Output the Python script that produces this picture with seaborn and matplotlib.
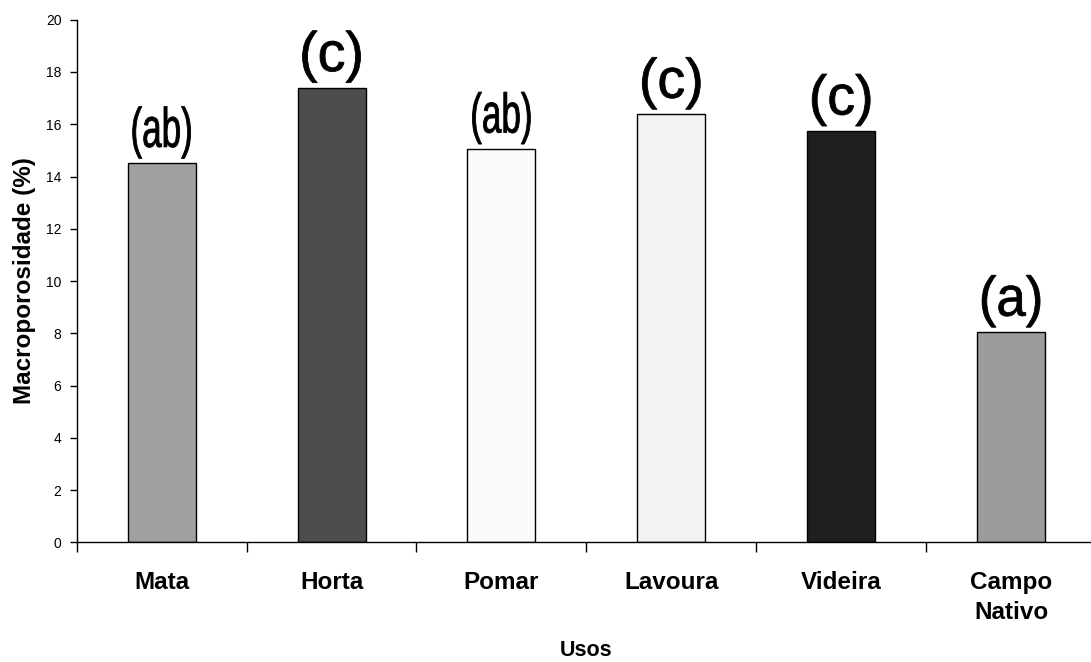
import numpy as np
import pandas as pd
import seaborn as sns
import matplotlib.pyplot as plt
from matplotlib.ticker import FixedLocator
from matplotlib.textpath import TextPath
from matplotlib.patches import PathPatch
from matplotlib.font_manager import FontProperties
from matplotlib.transforms import Affine2D, ScaledTranslation

# Data
usos = ['Mata', 'Horta', 'Pomar', 'Lavoura', 'Videira', 'Campo\nNativo']
macro = [14.5, 17.4, 15.05, 16.38, 15.74, 8.04]
letras = ['(ab)', '(c)', '(ab)', '(c)', '(c)', '(a)']
cores = ['#a0a0a0', '#4d4d4d', '#fafafa', '#f2f2f2', '#1f1f1f', '#9c9c9c']

df = pd.DataFrame({'uso': usos, 'macro': macro})

sns.set_style('white')
plt.rcParams['font.family'] = ['Liberation Sans', 'DejaVu Sans']
for k in ['text.color', 'axes.labelcolor', 'xtick.color', 'ytick.color']:
    plt.rcParams[k] = 'black'

fig = plt.figure(figsize=(10.91, 6.62), dpi=100)
# the x axis runs a little past the right edge, as in the original
ax = fig.add_axes([0.0703, 0.1808, 0.9343, 0.7894])

sns.barplot(data=df, x='uso', y='macro', hue='uso', palette=dict(zip(usos, cores)),
            legend=False, width=0.4, saturation=1, edgecolor='black', linewidth=1, ax=ax)

# letters above bars, drawn as stretched text paths (tall, narrow look)
fp = FontProperties(family='Liberation Sans')
for i, (v, t) in enumerate(zip(macro, letras)):
    tp = TextPath((0, 0), t, size=40, prop=fp)
    bb = tp.get_extents()
    tr = (Affine2D().translate(-(bb.x0 + bb.x1) / 2, -bb.y0)
          .scale(58 / bb.width, 52 / bb.height).translate(0, 5)
          + ScaledTranslation(i, v, ax.transData))
    ax.add_artist(PathPatch(tp, transform=tr, facecolor='black', edgecolor='black',
                            linewidth=0.6, clip_on=False))

ax.set_xlim(-0.5, len(usos) - 0.5)
ax.set_ylim(0, 20)
ax.set_yticks(np.arange(0, 21, 2))
ax.tick_params(axis='y', length=5, width=1, pad=6, labelsize=10, left=True, direction='out')

# ticks between categories, labels centred under bars
ax.xaxis.set_major_locator(FixedLocator(np.arange(-0.5, len(usos), 1)))
ax.xaxis.set_minor_locator(FixedLocator(np.arange(len(usos))))
ax.set_xticklabels([], minor=False)
ax.set_xticklabels(usos, minor=True, fontweight='bold', fontsize=17.5, linespacing=1.35)
ax.tick_params(axis='x', which='major', length=7, width=1, bottom=True, direction='out')
ax.tick_params(axis='x', which='minor', length=0, pad=21)

for s in ['top', 'right']:
    ax.spines[s].set_visible(False)
for s in ['left', 'bottom']:
    ax.spines[s].set_color('black')
    ax.spines[s].set_linewidth(1)

ax.set_xlabel('Usos', fontweight='bold', fontsize=15.5)
ax.xaxis.set_label_coords(0.5, -0.186)
ax.set_ylabel('Macroporosidade (%)', fontweight='bold', fontsize=17.5, labelpad=7)

fig.savefig('out.png', dpi=100)
